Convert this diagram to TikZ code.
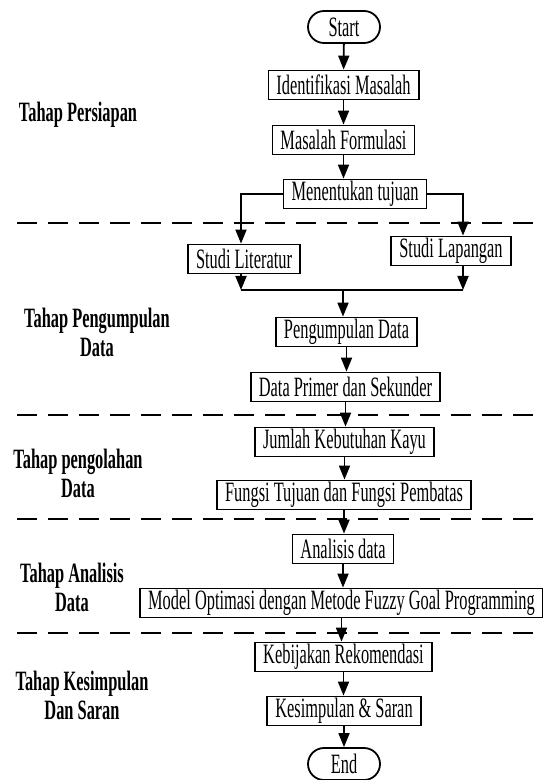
\documentclass[tikz,border=0pt]{standalone}
\usepackage{fontspec}
\setmainfont{Liberation Serif}[FakeStretch=0.585]
\usetikzlibrary{arrows.meta}

\begin{document}
\begin{tikzpicture}[x=0.5pt, y=-0.5pt, font=\fontsize{14}{14.5}\selectfont,
        box/.style={draw, line width=0.9pt, minimum height=14.5pt, inner xsep=4pt, inner ysep=0.5pt},
        term/.style={box, rounded corners=8pt, minimum width=36pt, minimum height=16pt},
        tahap/.style={font=\fontsize{14}{14.5}\selectfont\bfseries, align=center},
        arr/.style={line width=0.9pt, -{Triangle[length=7pt, width=5.5pt]}},
        sep/.style={line width=0.9pt, dash pattern=on 10pt off 5.5pt}]
        \useasboundingbox (0,0) rectangle (542,780);

        \node[tahap] (t1) at (78, 115) {Tahap Persiapan};
        \node[tahap] (t2) at (97, 332) {Tahap Pengumpulan\\Data};
        \node[tahap] (t3) at (78, 473) {Tahap pengolahan\\Data};
        \node[tahap] (t4) at (72, 587) {Tahap Analisis\\Data};
        \node[tahap] (t5) at (82, 695) {Tahap Kesimpulan\\Dan Saran};

        \draw[sep] (17, 223) coordinate (s1a) -- (542, 223) coordinate (s1b);
        \draw[sep] (17, 415) coordinate (s2a) -- (542, 415) coordinate (s2b);
        \draw[sep] (17, 519) coordinate (s3a) -- (542, 519) coordinate (s3b);
        \draw[sep] (17, 633) coordinate (s4a) -- (542, 633) coordinate (s4b);

        \node[term] (start) at (344, 27) {Start};
        \node[box] (ident) at (343.5, 85) {Identifikasi Masalah};
        \node[box] (formul) at (343.5, 140) {Masalah Formulasi};
        \node[box] (tujuan) at (355, 194) {Menentukan tujuan};
        \node[box] (litr) at (244, 259) {Studi Literatur};
        \node[box] (lap) at (451, 251) {Studi Lapangan};
        \node[box] (kumpul) at (346.5, 332) {Pengumpulan Data};
        \node[box] (primer) at (345.5, 387) {Data Primer dan Sekunder};
        \node[box] (jumlah) at (344.5, 442) {Jumlah Kebutuhan Kayu};
        \node[box] (fungsi) at (344, 495) {Fungsi Tujuan dan Fungsi Pembatas};
        \node[box] (analisis) at (343, 549) {Analisis data};
        \node[box] (model) at (341.5, 603) {Model Optimasi dengan Metode Fuzzy Goal Programming};
        \node[box] (bijak) at (343.5, 657) {Kebijakan Rekomendasi};
        \node[box] (simpul) at (344, 711) {Kesimpulan \& Saran};
        \node[term] (end) at (344, 764) {End};

        \coordinate (jl) at (241, 290);
        \coordinate (jr) at (463, 290);
        \coordinate (jm) at (343, 290);

        \draw[arr] (start) -- (ident);
        \draw[arr] (ident) -- (formul);
        \draw[arr] (formul.south) -- (formul.south |- tujuan.north);
        \draw[arr] (tujuan.west) -| (jl |- litr.north);
        \draw[arr] (tujuan.east) -| (jr |- lap.north);
        \draw[arr] (jl |- litr.south) -- (jl);
        \draw[arr] (jr |- lap.south) -- (jr);
        \draw[line width=0.9pt] (jl) -- (jr);
        \draw[arr] (jm) -- (jm |- kumpul.north);
        \draw[arr] (kumpul) -- (kumpul |- primer.north);
        \draw[arr] (primer) -- (primer |- jumlah.north);
        \draw[arr] (jumlah) -- (jumlah |- fungsi.north);
        \draw[arr] (fungsi) -- (fungsi |- analisis.north);
        \draw[arr] (analisis) -- (analisis |- model.north);
        \draw[arr] (model) -- (model |- bijak.north);
        \draw[arr] (bijak) -- (bijak |- simpul.north);
        \draw[arr] (simpul) -- (simpul |- end.north);
\end{tikzpicture}
\end{document}
